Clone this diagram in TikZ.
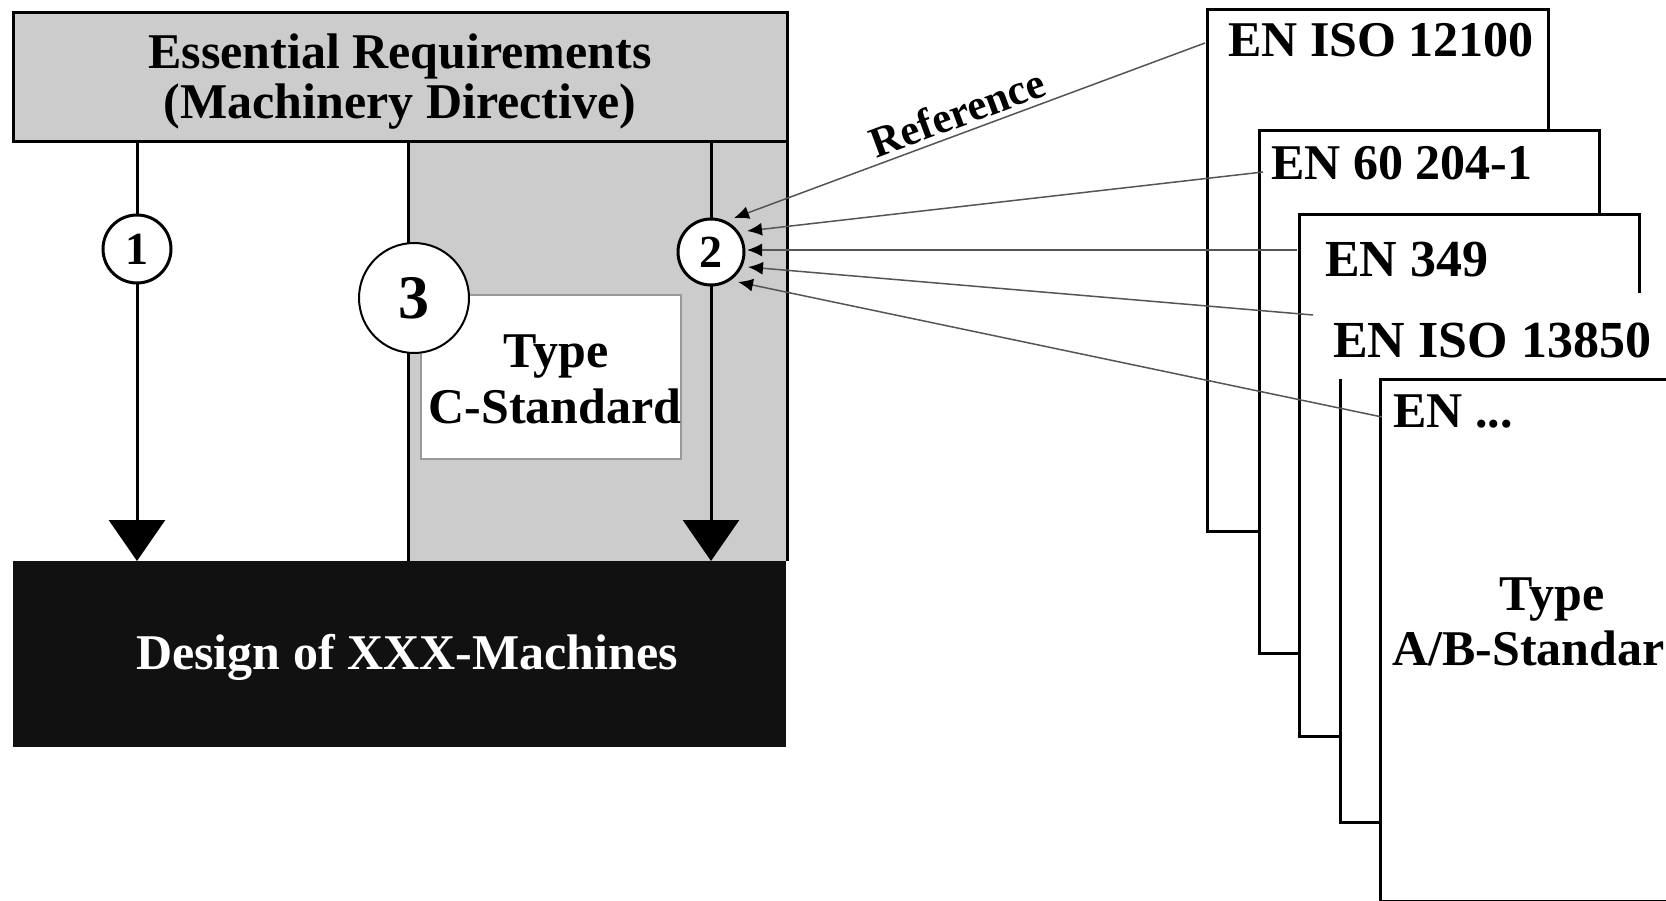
\documentclass[tikz,border=0pt]{standalone}
\usepackage{fontspec}
\setmainfont{Liberation Serif}
\usetikzlibrary{arrows.meta}
\definecolor{lgray}{HTML}{CCCCCC}
\definecolor{dblack}{HTML}{111111}
\definecolor{lgline}{HTML}{555555}
\definecolor{cbord}{HTML}{999999}
\newcommand{\fsz}[1]{\fontsize{#1}{#1}\selectfont\bfseries}
\tikzset{
  bx/.style={draw=black, line width=3pt, fill=white, anchor=north west, inner sep=0pt, outer sep=0pt},
  area/.style={anchor=north west, inner sep=0pt, outer sep=0pt},
  txt/.style={inner sep=0pt, font=\fsz{50}},
  circ/.style={circle, draw=black, line width=3pt, fill=white, inner sep=0pt, outer sep=0pt},
  bigarrow/.style={line width=3pt, -{Triangle[length=41pt,width=56pt]}},
  edge3/.style={line width=3pt},
  refline/.style={draw=lgline, line width=1.5pt, {Latex[length=15pt,width=13pt,color=black,fill=black]}-}
}
\begin{document}
\begin{tikzpicture}[x=1pt,y=-1pt]
\useasboundingbox (0,0) rectangle (1666,901);
\clip (0,0) rectangle (1666,901);
\fill[white] (0,0) rectangle (1666,901);

% ---------- left part ----------
\node[area, fill=lgray, minimum width=379pt, minimum height=419pt] (reg) at (408,142) {};
\node[area, fill=dblack, minimum width=773pt, minimum height=186pt] (des) at (13,561) {};
\node[bx, fill=lgray, minimum width=774pt, minimum height=129pt] (req) at (13,13) {};
\draw[edge3] (reg.north west) -- (reg.south west);
\draw[edge3] (reg.north east) -- (reg.south east);

\node[txt, anchor=base] (reqA) at (400,69) {Essential Requirements};
\node[txt, anchor=base] (reqB) at (400,119) {(Machinery Directive)};
\node[txt, anchor=base, text=white] (desT) at (407,669) {Design of XXX-Machines};

\node[area, fill=white, draw=cbord, line width=1.5pt, minimum width=260pt, minimum height=164pt] (cstd) at (421,295) {};
\node[txt, anchor=base] (cA) at (556,367) {Type};
\node[txt, anchor=base] (cB) at (555,423) {C-Standard};

\node[circ, minimum size=68pt, font=\fsz{46}] (c1) at (137,249) {1};
\node[circ, minimum size=66pt, font=\fsz{46}] (c2) at (711,252) {2};
\node[circ, line width=2pt, minimum size=110pt, font=\fsz{62}] (c3) at (414,298) {3};

\draw[edge3] (req.south -| c1) -- (c1.north);
\draw[bigarrow] (c1.south) -- (c1 |- des.north);
\draw[edge3] (req.south -| c2) -- (c2.north);
\draw[bigarrow] (c2.south) -- (c2 |- des.north);

% ---------- right part ----------
\node[bx, minimum width=341pt, minimum height=521pt] (s1) at (1207,10) {};
\node[bx, minimum width=340pt, minimum height=522pt] (s2) at (1259,131) {};
\node[bx, minimum width=340pt, minimum height=521pt] (s3) at (1299,215) {};
\node[bx, minimum width=380pt, minimum height=524pt] (s4) at (1340,298) {};
\node[area, fill=white, minimum width=400pt, minimum height=86pt] (s4lbl) at (1313,293) {};
\node[bx, minimum width=340pt, minimum height=521pt] (s5) at (1380,380) {};

\node[txt, anchor=base west] (n1) at (1228,57) {EN ISO 12100};
\node[txt, anchor=base west] (n2) at (1271,180) {EN 60 204-1};
\node[txt, anchor=base west, font=\fsz{52}] (n3) at (1325,277) {EN 349};
\node[txt, anchor=base west, font=\fsz{52}] (n4) at (1333,358) {EN ISO 13850};
\node[txt, anchor=base west] (n5) at (1393,427) {EN ...};
\node[txt, anchor=base] (abA) at (1552,610) {Type};
\node[txt, anchor=base west] (abB) at (1392,665) {A/B-Standar};

% ---------- reference connectors ----------
\coordinate (e1) at (1205,43);
\coordinate (e2) at (1263,172);
\coordinate (e3) at (1297,250);
\coordinate (e4) at (1313,315);
\coordinate (e5) at (1382,417);
\coordinate (t1) at (734,218);
\coordinate (t2) at (747,231);
\coordinate (t3) at (747,250);
\coordinate (t4) at (748,267);
\coordinate (t5) at (738,282);

\draw[refline] (t1) -- node[sloped, above=5pt, pos=0.49, inner sep=0pt, font=\fsz{43}] (reflbl) {Reference} (e1);
\draw[refline] (t2) -- (e2);
\draw[refline] (t3) -- (e3);
\draw[refline] (t4) -- (e4);
\draw[refline] (t5) -- (e5);
\end{tikzpicture}
\end{document}
